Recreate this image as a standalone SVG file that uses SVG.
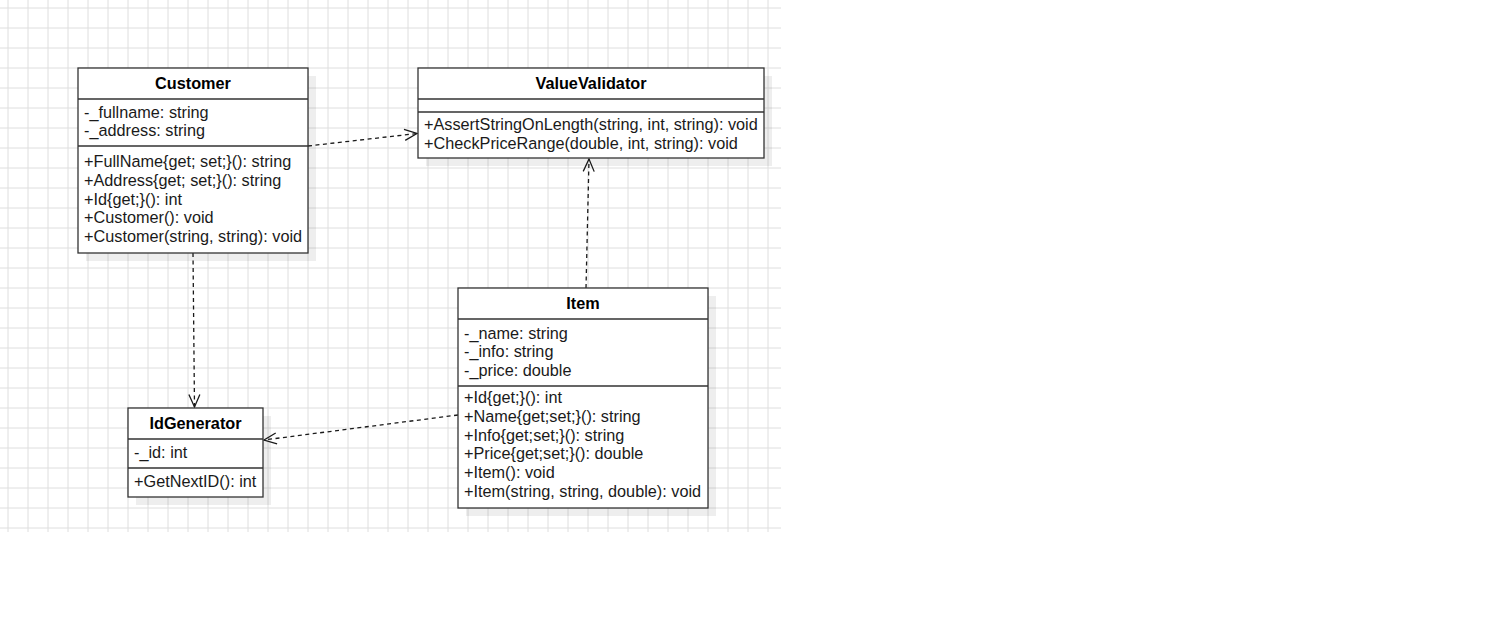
<svg xmlns="http://www.w3.org/2000/svg" width="1505" height="633" viewBox="0 0 1505 633">
<style>
.box{fill:#ffffff;stroke:#333333;stroke-width:1.3}
.sep{stroke:#333333;stroke-width:1.3;fill:none}
.shadow{fill:#000000;fill-opacity:0.065}
.t{font-family:"Liberation Sans",Arial,Helvetica,sans-serif;font-size:16.25px;fill:#1a1a1a}
.title{font-family:"Liberation Sans",Arial,Helvetica,sans-serif;font-size:16.25px;font-weight:bold;fill:#000000;text-anchor:middle}
.dep{fill:none;stroke:#1a1a1a;stroke-width:1.3;stroke-dasharray:4 3.5;marker-end:url(#open)}
</style>
<defs>
<pattern id="grid" width="20" height="20" patternUnits="userSpaceOnUse">
<path d="M8 0V20M0 8H20" stroke="#dedede" stroke-width="1" fill="none"/>
</pattern>
<marker id="open" markerUnits="userSpaceOnUse" viewBox="-14 -7 16 14" markerWidth="16" markerHeight="14" refX="0" refY="0" orient="auto">
<path d="M-12.5 -5.5L0 0L-12.5 5.5" fill="none" stroke="#1a1a1a" stroke-width="1.3" stroke-dasharray="none"/>
</marker>
</defs>
<rect x="0" y="0" width="1505" height="633" fill="#ffffff"/>
<rect x="0" y="0" width="781" height="532" fill="url(#grid)"/>

<g id="connectors">
<path class="dep" d="M308 146L417 133.5"/>
<path class="dep" d="M193 253L194.5 407"/>
<path class="dep" d="M586 288L589 159"/>
<path class="dep" d="M458 415L264 440"/>
</g>

<g id="Customer">
<rect class="shadow" x="86" y="76" width="230" height="185"/>
<rect class="box" x="78" y="68" width="230" height="185"/>
<path class="sep" d="M78 99H308M78 146H308"/>
<text class="title" x="193" y="89">Customer</text>
<text class="t" x="84" y="117.5">-_fullname: string</text>
<text class="t" x="84" y="136">-_address: string</text>
<text class="t" x="84" y="167">+FullName{get; set;}(): string</text>
<text class="t" x="84" y="185.75">+Address{get; set;}(): string</text>
<text class="t" x="84" y="204.5">+Id{get;}(): int</text>
<text class="t" x="84" y="223.25">+Customer(): void</text>
<text class="t" x="84" y="242">+Customer(string, string): void</text>
</g>

<g id="ValueValidator">
<rect class="shadow" x="426" y="76" width="346" height="90"/>
<rect class="box" x="418" y="68" width="346" height="90"/>
<path class="sep" d="M418 99H764M418 112H764"/>
<text class="title" x="591" y="89">ValueValidator</text>
<text class="t" x="424" y="130">+AssertStringOnLength(string, int, string): void</text>
<text class="t" x="424" y="148.8">+CheckPriceRange(double, int, string): void</text>
</g>

<g id="Item">
<rect class="shadow" x="466" y="296" width="250" height="220"/>
<rect class="box" x="458" y="288" width="250" height="220"/>
<path class="sep" d="M458 319H708M458 386H708"/>
<text class="title" x="583" y="309">Item</text>
<text class="t" x="464" y="338.5">-_name: string</text>
<text class="t" x="464" y="357.25">-_info: string</text>
<text class="t" x="464" y="376">-_price: double</text>
<text class="t" x="464" y="403">+Id{get;}(): int</text>
<text class="t" x="464" y="421.75">+Name{get;set;}(): string</text>
<text class="t" x="464" y="440.5">+Info{get;set;}(): string</text>
<text class="t" x="464" y="459.25">+Price{get;set;}(): double</text>
<text class="t" x="464" y="478">+Item(): void</text>
<text class="t" x="464" y="496.75">+Item(string, string, double): void</text>
</g>

<g id="IdGenerator">
<rect class="shadow" x="136" y="416" width="135" height="89"/>
<rect class="box" x="128" y="408" width="135" height="89"/>
<path class="sep" d="M128 439H263M128 468H263"/>
<text class="title" x="195.5" y="429">IdGenerator</text>
<text class="t" x="134" y="458">-_id: int</text>
<text class="t" x="134" y="487">+GetNextID(): int</text>
</g>
</svg>
